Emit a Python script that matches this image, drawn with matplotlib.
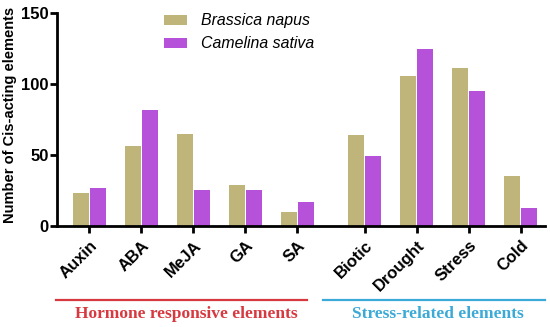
import matplotlib
matplotlib.use("Agg")
import matplotlib.pyplot as plt
import numpy as np

categories = ["Auxin", "ABA", "MeJA", "GA", "SA", "Biotic", "Drought", "Stress", "Cold"]
brassica = [23, 56, 65, 29, 10, 64, 106, 111, 35]
camelina = [27, 82, 25, 25, 17, 49, 125, 95, 13]
series_names = ["Brassica napus", "Camelina sativa"]
group_names = ["Hormone responsive elements", "Stress-related elements"]
yticks = [0, 50, 100, 150]

plt.rcParams['font.family'] = ['Liberation Sans', 'DejaVu Sans']

fig = plt.figure(figsize=(5.5, 3.27), dpi=100)
ax = fig.add_axes([0.104, 0.309, 0.887, 0.651])

x = np.array([0, 1, 2, 3, 4, 5.3, 6.3, 7.3, 8.3])
w = 0.31
c1 = "#BFB57A"
c2 = "#B552D9"
ax.bar(x - w/2 - 0.01, brassica, width=w, color=c1, label=series_names[0])
ax.bar(x + w/2 + 0.01, camelina, width=w, color=c2, label=series_names[1])

ax.set_xlim(-0.62, 8.77)
ax.set_ylim(0, 150)
ax.set_yticks(yticks)
ax.set_yticklabels([str(v) for v in yticks], fontsize=12, fontweight='bold')
ax.set_xticks(x)
ax.set_xticklabels(categories, rotation=45, ha='right', rotation_mode='anchor',
                   fontsize=12, fontweight='bold')
ax.set_ylabel("Number of Cis-acting elements", fontsize=10.5, fontweight='bold')
ax.yaxis.set_label_coords(-0.083, 0.52)

for s in ['top', 'right']:
    ax.spines[s].set_visible(False)
for s in ['left', 'bottom']:
    ax.spines[s].set_linewidth(2)
ax.tick_params(axis='both', width=2, length=5, direction='out')
ax.tick_params(axis='y', pad=1)

leg = ax.legend(loc='upper left', bbox_to_anchor=(0.19, 1.065), frameon=False,
                prop={'style': 'italic', 'size': 11.4}, handlelength=1.45, handleheight=0.65,
                labelspacing=0.5, handletextpad=0.9)

# group annotation lines and labels (figure coordinates)
red = "#D8383F"
blue = "#3BAAD6"
y_line = 1 - 300/327
fig.add_artist(plt.Line2D([56/550, 307/550], [y_line, y_line], color=red, lw=1.6,
                          transform=fig.transFigure))
fig.add_artist(plt.Line2D([323/550, 545/550], [y_line, y_line], color=blue, lw=1.6,
                          transform=fig.transFigure))
fig.text(186/550, 1 - 314/327, group_names[0], color=red, ha='center', va='center',
         fontsize=12.5, fontweight='bold', family=['Liberation Serif', 'DejaVu Serif'])
fig.text(438/550, 1 - 314/327, group_names[1], color=blue, ha='center', va='center',
         fontsize=12.5, fontweight='bold', family=['Liberation Serif', 'DejaVu Serif'])

fig.savefig("out.png", dpi=100)
